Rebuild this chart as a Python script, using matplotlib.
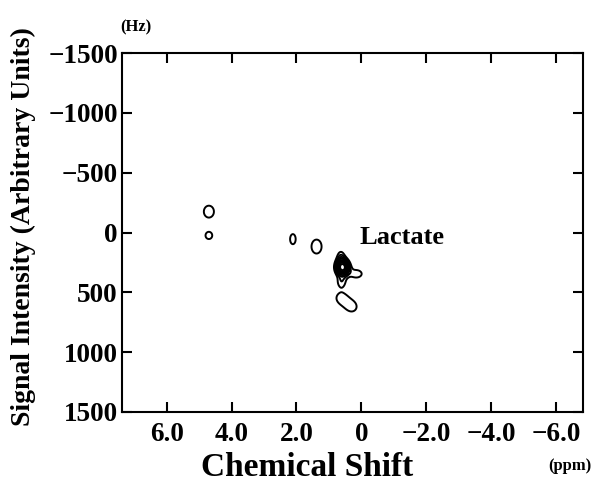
import numpy as np
import matplotlib
matplotlib.use('Agg')
import matplotlib.pyplot as plt

plt.rcParams['font.family'] = ['Liberation Serif', 'DejaVu Serif']
plt.rcParams['font.weight'] = 'bold'

# peaks: chemical shift (ppm), offset (Hz), height, widths
peak_ppm = [4.70, 4.70, 2.11, 1.38, 0.58, 0.63, 0.61, 0.15, 0.63, 0.28]
peak_hz = [-175, 25, 55, 117, 290, 200, 408, 345, 545, 622]
peak_amp = [1.35, 1.3, 1.35, 1.35, 7.5, 1.35, 1.35, 1.38, 1.15, 1.15]
peak_sx = [0.20, 0.14, 0.11, 0.20, 0.13, 0.10, 0.12, 0.20, 0.22, 0.22]
peak_sy = [64, 40, 54, 75, 42, 45, 40, 38, 60, 60]
levels = [1.0, 1.6, 2.2, 2.9, 3.7, 4.6, 5.6, 6.6]

x_ticks = [6, 4, 2, 0, -2, -4, -6]
x_labels = ['6.0', '4.0', '2.0', '0', '\u22122.0', '\u22124.0', '\u22126.0']
y_ticks = [-1500, -1000, -500, 0, 500, 1000, 1500]
y_labels = ['\u22121500', '\u22121000', '\u2212500', '0', '500', '1000', '1500']

xs = np.linspace(-1.5, 6.0, 900)
ys = np.linspace(-600, 1000, 900)
X, Y = np.meshgrid(xs, ys)
Z = np.zeros_like(X)
for px, py, a, sx, sy in zip(peak_ppm, peak_hz, peak_amp, peak_sx, peak_sy):
    Z += a * np.exp(-0.5 * (((X - px) / sx) ** 2 + ((Y - py) / sy) ** 2))

fig = plt.figure(figsize=(5.95, 4.83), dpi=100)
ax = fig.add_axes([0.205, 0.147, 0.775, 0.743])
ax.contour(X, Y, Z, levels=levels, colors='black', linewidths=1.4)

ax.set_xlim(7.38, -6.84)
ax.set_ylim(1500, -1500)
ax.set_xticks(x_ticks)
ax.set_xticklabels(x_labels)
ax.set_yticks(y_ticks)
ax.set_yticklabels(y_labels)
ax.tick_params(direction='in', length=7, width=1.5, labelsize=19.5,
               top=True, right=True)
ax.tick_params(axis='x', pad=7)
ax.tick_params(axis='y', pad=3)
for s in ax.spines.values():
    s.set_linewidth(1.5)

ax.text(0.05, 92, 'Lactate', fontsize=19, fontweight='bold',
        ha='left', va='baseline')

fig.text(0.516, 0.0, 'Chemical Shift', fontsize=24, fontweight='bold',
         ha='center', va='bottom')
fig.text(0.958, 0.035, '(ppm)', fontsize=12, fontweight='bold',
         ha='center', va='center')
fig.text(0.229, 0.944, '(Hz)', fontsize=12, fontweight='bold',
         ha='center', va='center')
fig.text(0.04, 0.53, 'Signal Intensity (Arbitrary Units)', fontsize=20,
         fontweight='bold', rotation=90, ha='center', va='center')

fig.savefig('out.png', dpi=100)
